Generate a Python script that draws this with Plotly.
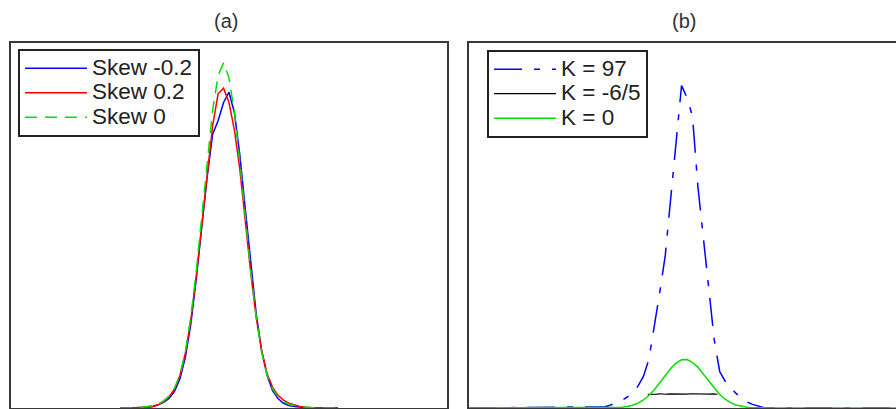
import plotly.graph_objects as go

# ---------------- data: panel (a) ----------------
x_a = [-5.0, -4.5, -4.0, -3.75, -3.5, -3.25, -3.0, -2.75, -2.5, -2.25, -2.0, -1.75, -1.5,
       -1.25, -1.0, -0.75, -0.5, -0.25, 0.0, 0.25, 0.5, 0.75, 1.0, 1.25, 1.5, 1.75,
       2.0, 2.25, 2.5, 2.75, 3.0, 3.25, 3.5, 3.75, 4.0, 4.5, 5.0]
skew_neg = [0.0, 0.0, 0.0005, 0.001, 0.002, 0.004, 0.007, 0.012, 0.021, 0.037, 0.064, 0.106, 0.163,
            0.228, 0.292, 0.345, 0.362, 0.385, 0.398, 0.372, 0.318, 0.250, 0.180, 0.118, 0.072, 0.041,
            0.022, 0.012, 0.006, 0.003, 0.002, 0.001, 0.0005, 0.0, 0.0, 0.0, 0.0]
skew_pos = [0.0, 0.0, 0.001, 0.001, 0.002, 0.004, 0.008, 0.014, 0.024, 0.041, 0.069, 0.111, 0.167,
            0.232, 0.298, 0.356, 0.396, 0.403, 0.385, 0.350, 0.300, 0.235, 0.170, 0.114, 0.072, 0.043,
            0.026, 0.016, 0.010, 0.006, 0.004, 0.002, 0.001, 0.0005, 0.0, 0.0, 0.0]
skew_zero = [0.0, 0.0, 0.001, 0.002, 0.003, 0.005, 0.009, 0.015, 0.025, 0.042, 0.071, 0.115, 0.173,
             0.241, 0.312, 0.375, 0.419, 0.435, 0.416, 0.372, 0.310, 0.240, 0.172, 0.114, 0.070, 0.041,
             0.024, 0.014, 0.008, 0.005, 0.003, 0.002, 0.001, 0.0005, 0.0, 0.0, 0.0]

# ---------------- data: panel (b) ----------------
x_b = [-10.0, -4.0, -3.75, -3.5, -3.25, -3.0, -2.75, -2.5, -2.25, -2.0, -1.75, -1.5,
       -1.25, -1.0, -0.75, -0.5, -0.25, 0.0, 0.25, 0.5, 0.75, 1.0, 1.25, 1.5, 1.75,
       2.0, 2.25, 2.5, 2.75, 3.0, 3.25, 3.5, 3.75, 4.0, 10.0]
k_97 = [0.0, 0.005, 0.01, 0.025, 0.04, 0.06, 0.09, 0.12, 0.18, 0.26, 0.40, 0.66,
        0.95, 1.25, 1.72, 2.20, 2.65, 2.55, 2.40, 1.82, 1.38, 0.95, 0.56, 0.30, 0.22,
        0.17, 0.12, 0.08, 0.05, 0.03, 0.015, 0.005, 0.0, 0.0, 0.0]
k_zero = [0.0, 0.0002, 0.0005, 0.001, 0.003, 0.006, 0.012, 0.022, 0.040, 0.066, 0.103, 0.150,
          0.207, 0.267, 0.324, 0.369, 0.396, 0.398, 0.376, 0.334, 0.279, 0.218, 0.161, 0.111, 0.072,
          0.044, 0.025, 0.014, 0.007, 0.003, 0.001, 0.0005, 0.0, 0.0, 0.0]
x_unif = [-1.8, -1.6, -1.4, -1.2, -1.0, -0.8, -0.6, -0.4, -0.2, 0.0, 0.2, 0.4, 0.6, 0.8, 1.0, 1.2, 1.4]
k_unif = [0.112, 0.116, 0.114, 0.117, 0.113, 0.116, 0.115, 0.112, 0.116, 0.114, 0.117, 0.115,
          0.113, 0.116, 0.114, 0.116, 0.113]

titles = ["(a)", "(b)"]
names_a = ["Skew -0.2", "Skew 0.2", "Skew 0"]
names_b = ["K = 97", "K = -6/5", "K = 0"]

W, H = 896, 409
FONT = "Liberation Sans, Arial, Helvetica, sans-serif"
FRAME = "#383838"
LEG_TEXT = 22.5


def big(t):
    return "<span style='font-size:%spx'>%s</span>" % (LEG_TEXT, t)


fig = go.Figure()

# panel (a)
fig.add_trace(go.Scatter(x=x_a, y=skew_neg, mode="lines", name=big(names_a[0]),
                         line=dict(color="#0000ff", width=1.5), xaxis="x", yaxis="y", legend="legend"))
fig.add_trace(go.Scatter(x=x_a, y=skew_pos, mode="lines", name=big(names_a[1]),
                         line=dict(color="#ff0000", width=1.5), xaxis="x", yaxis="y", legend="legend"))
fig.add_trace(go.Scatter(x=x_a, y=skew_zero, mode="lines", name=big(names_a[2]),
                         line=dict(color="#00e000", width=1.5, dash="12px,8px"), xaxis="x", yaxis="y",
                         legend="legend"))

# panel (b)
fig.add_trace(go.Scatter(x=x_b, y=k_97, mode="lines", name=big(names_b[0]),
                         line=dict(color="#0000ff", width=1.5, dash="28px,12px,6px,12px"),
                         xaxis="x2", yaxis="y2", legend="legend2"))
fig.add_trace(go.Scatter(x=x_unif, y=k_unif, mode="lines", name=big(names_b[1]),
                         line=dict(color="#000000", width=1.2), xaxis="x2", yaxis="y2", legend="legend2"))
fig.add_trace(go.Scatter(x=x_b, y=k_zero, mode="lines", name=big(names_b[2]),
                         line=dict(color="#00e000", width=1.5), xaxis="x2", yaxis="y2", legend="legend2"))

ml, mr, mt, mb = 0, 0, 43, 1
pw = W - ml - mr
ph = H - mt - mb


def px_x(p):
    return (p - ml) / pw


def px_y(p):
    return (H - mb - p) / ph


axis_common = dict(showline=True, linecolor=FRAME, linewidth=2, showticklabels=False,
                   ticks="", showgrid=False, zeroline=False, fixedrange=True)

legend_common = dict(font=dict(family=FONT, size=16.5, color="#222"), bgcolor="white",
                     bordercolor="#222", borderwidth=2, xanchor="left", yanchor="top",
                     itemwidth=62, tracegroupgap=0, xref="paper", yref="paper")

fig.update_layout(
    width=W, height=H,
    margin=dict(l=ml, r=mr, t=mt, b=mb, pad=0),
    paper_bgcolor="white", plot_bgcolor="white",
    font=dict(family=FONT, color="#333"),
    showlegend=True,
    xaxis=dict(domain=[px_x(11), px_x(447)], range=[-10, 10], mirror=True, anchor="y", **axis_common),
    yaxis=dict(domain=[0, 1], range=[0, 0.46], mirror=True, anchor="x", **axis_common),
    xaxis2=dict(domain=[px_x(469), 1], range=[-10, 9.587], mirror=True, anchor="y2", **axis_common),
    yaxis2=dict(domain=[0, 1], range=[0, 3.0], mirror=False, anchor="x2", **axis_common),
    legend=dict(x=px_x(18), y=px_y(49), **legend_common),
    legend2=dict(x=px_x(487), y=px_y(50), **legend_common),
    annotations=[
        dict(text=titles[0], x=px_x(226), y=px_y(21), xref="paper", yref="paper",
             showarrow=False, xanchor="center", yanchor="middle",
             font=dict(family=FONT, size=20, color="#333")),
        dict(text=titles[1], x=px_x(684), y=px_y(21), xref="paper", yref="paper",
             showarrow=False, xanchor="center", yanchor="middle",
             font=dict(family=FONT, size=20, color="#333")),
    ],
)

fig.write_html("out.html")
